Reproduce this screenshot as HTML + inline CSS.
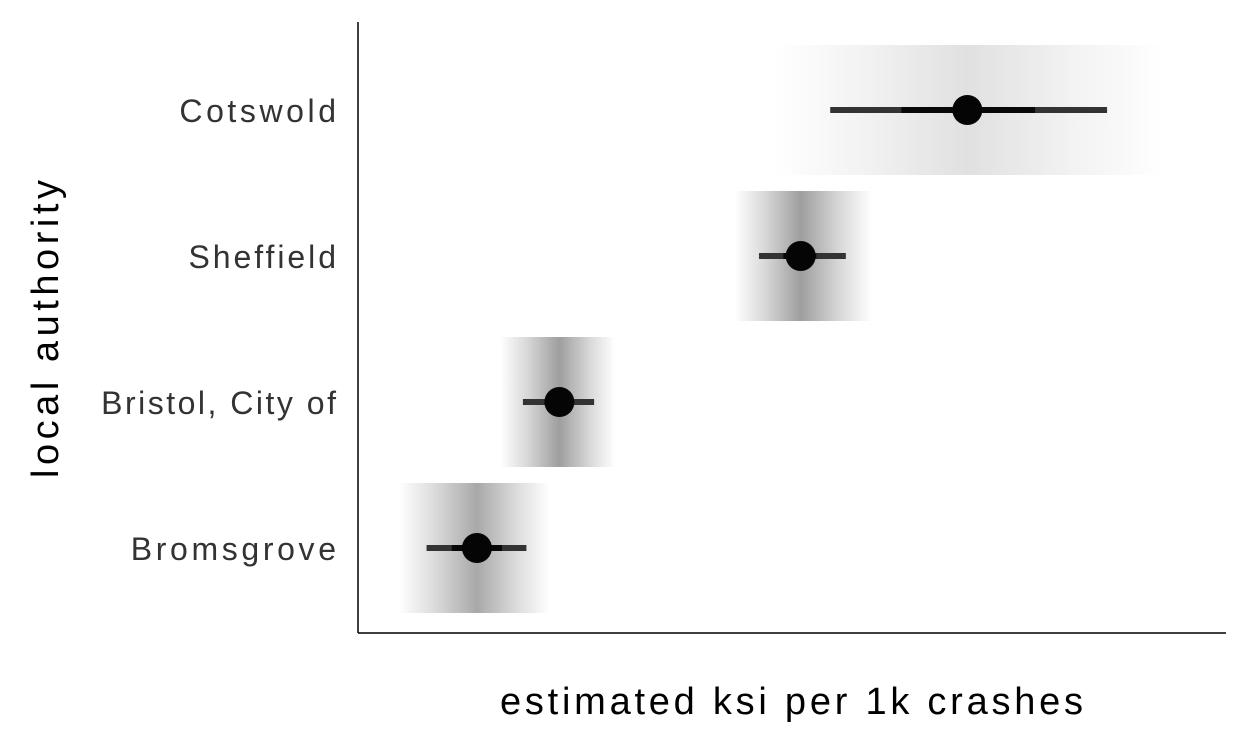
<!DOCTYPE html>
<html><head><meta charset="utf-8"><style>
html,body{margin:0;padding:0;background:#fff}
svg{display:block;font-family:"Liberation Sans",sans-serif}
</style></head><body>
<svg id="chart" width="1250" height="750">
<g id="bands"></g>
<g id="marks"></g>
<line x1="358" y1="22" x2="358" y2="633" stroke="#000" stroke-width="1.5"/>
<line x1="358" y1="633" x2="1226" y2="633" stroke="#000" stroke-width="1.5"/>
<g id="labels"></g>
<text x="500" y="714" font-size="38" fill="#000" textLength="583" lengthAdjust="spacing">estimated ksi per 1k crashes</text>
<text transform="translate(58,478) rotate(-90)" font-size="38" fill="#000" textLength="298" lengthAdjust="spacing">local authority</text>
</svg>
<script>
const categories = ["Cotswold","Sheffield","Bristol, City of","Bromsgrove"];
const estimates = [70.2, 51.0, 23.2, 13.7];
const outerLow = [54.4, 46.2, 19.0, 7.9];
const outerHigh = [86.3, 56.2, 27.2, 19.4];
const innerLow = [62.6, 49.0, 21.6, 10.8];
const innerHigh = [78.0, 52.8, 24.8, 16.6];
const bandLow = [48.0, 43.4, 16.4, 4.6];
const bandHigh = [93.0, 59.2, 29.6, 22.1];
const peakGray = [0.12, 0.38, 0.38, 0.34];

const NS = "http://www.w3.org/2000/svg";
const svg = document.getElementById('chart');
const x = v => 358 + v * 8.68;
const y = i => 110 + i * 146;
const defs = document.createElementNS(NS, 'defs');
svg.insertBefore(defs, svg.firstChild);
function mk(tag, attrs, parent){const e=document.createElementNS(NS,tag);for(const k in attrs)e.setAttribute(k,attrs[k]);parent.appendChild(e);return e;}
const bands=document.getElementById('bands'), marks=document.getElementById('marks'), labels=document.getElementById('labels');
categories.forEach((c,i)=>{
  const g = mk('linearGradient',{id:'g'+i,x1:'0',x2:'1',y1:'0',y2:'0'},defs);
  const lo=bandLow[i], hi=bandHigh[i], m=(estimates[i]-lo)/(hi-lo);
  mk('stop',{offset:0,'stop-color':'#000','stop-opacity':0.0},g);
  mk('stop',{offset:m*0.45,'stop-color':'#000','stop-opacity':peakGray[i]*0.4},g);
  mk('stop',{offset:m,'stop-color':'#000','stop-opacity':peakGray[i]},g);
  mk('stop',{offset:m+(1-m)*0.55,'stop-color':'#000','stop-opacity':peakGray[i]*0.4},g);
  mk('stop',{offset:1,'stop-color':'#000','stop-opacity':0.0},g);
  const r = mk('rect',{x:x(lo),y:y(i)-65,width:x(hi)-x(lo),height:130,fill:'url(#g'+i+')'},bands);
  
  
  const l1 = mk('line',{x1:x(outerLow[i]),x2:x(outerHigh[i]),y1:y(i),y2:y(i),stroke:'#333','stroke-width':6},marks);
  
  
  const l2 = mk('line',{x1:x(innerLow[i]),x2:x(innerHigh[i]),y1:y(i),y2:y(i),stroke:'#080808','stroke-width':6},marks);
  
  
  const p = mk('circle',{cx:x(estimates[i]),cy:y(i),r:15,fill:'#050505'},marks);
  
  
  const t = mk('text',{x:336,y:y(i)+12,'text-anchor':'end','font-size':32,fill:'#333'},labels);
  t.textContent=c;
  
  
  const w = t.getComputedTextLength();
  t.setAttribute('textLength', w*1.19);
  t.setAttribute('lengthAdjust', 'spacing');
});
</script>
</body></html>
